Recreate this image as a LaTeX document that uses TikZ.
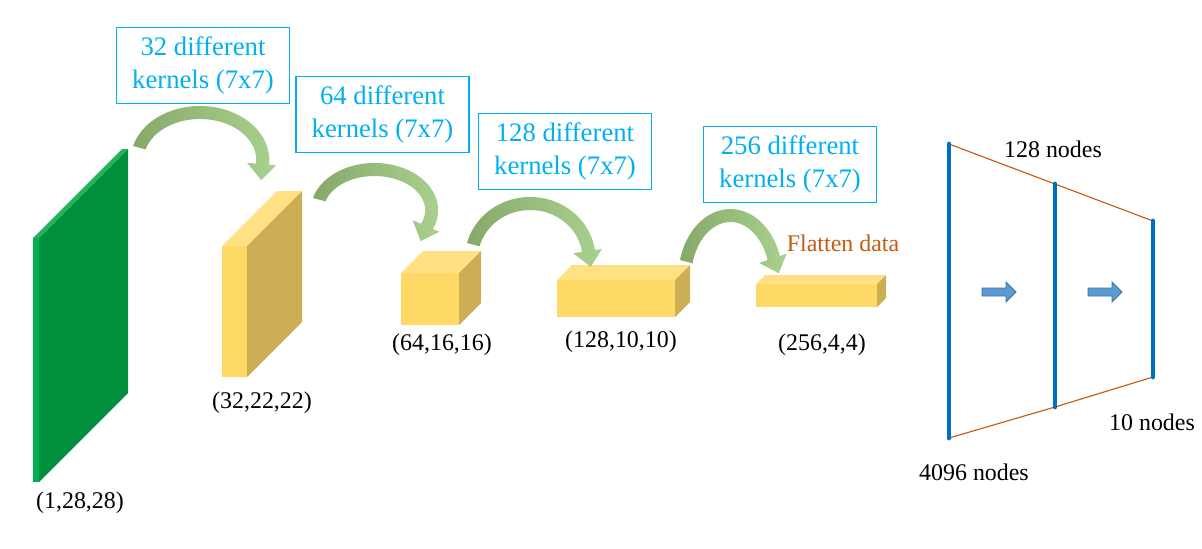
\documentclass[tikz,border=0pt]{standalone}
\usepackage{fontspec}
\setmainfont{Liberation Serif}
\usetikzlibrary{calc}

\definecolor{greenfront}{HTML}{00B050}
\definecolor{greentop}{HTML}{22B45C}
\definecolor{greenside}{HTML}{008F3D}
\definecolor{boxfront}{HTML}{FFD966}
\definecolor{boxtop}{HTML}{FFE083}
\definecolor{boxside}{HTML}{CCAF55}
\definecolor{arcdark}{HTML}{86A96A}
\definecolor{arclight}{HTML}{A9D18E}
\definecolor{kerncyan}{HTML}{00B0F0}
\definecolor{layerblue}{HTML}{0070C0}
\definecolor{linkorange}{HTML}{C55A11}
\definecolor{arrowblue}{HTML}{5B9BD5}
\definecolor{arrowedge}{HTML}{41719C}

\begin{document}
\begin{tikzpicture}[x=0.025cm, y=0.025cm,
    kernbox/.style={draw=kerncyan, line width=1pt, text=kerncyan, align=center,
      minimum width=4.33cm, minimum height=1.9cm, inner sep=0pt,
      font=\fontsize{19}{24}\selectfont},
    dimlabel/.style={inner sep=0pt, font=\fontsize{17}{20}\selectfont},
    layer/.style={draw=layerblue, line width=3.5pt, line cap=round},
    link/.style={draw=linkorange, line width=0.8pt},
    blockarrow/.style={fill=arrowblue, draw=arrowedge, line width=0.6pt}]
    
    \useasboundingbox (0,0) rectangle (1202,548);
    
    % feature maps (front x, front y, width, height, depth)
    \foreach \x/\y/\w/\h/\d/\cf/\ct/\cs in {33/66/6/244/89/greenfront/greentop/greenside,
      222/171/25/131/55/boxfront/boxtop/boxside, 401/223/58/52/22/boxfront/boxtop/boxside,
      557/231/118/37/15/boxfront/boxtop/boxside, 756/241/121/23/9/boxfront/boxtop/boxside}
    {
    \fill[fill=\cf] (\x,\y) rectangle ++(\w,\h);
    \fill[fill=\ct] (\x,\y+\h) -- ++(\d,\d) -- ++(\w,0) -- ++(-\d,-\d) -- cycle;
    \fill[fill=\cs] (\x+\w,\y) -- ++(\d,\d) -- ++(0,\h) -- ++(-\d,-\d) -- cycle;
    }
    
    % curved kernel arrows (centre, radii, end angle)
    \foreach \cx/\cy/\rx/\ry/\e in {200/388/69.3/54/-5, 374.5/337.8/63.7/47.2/-23.5,
      530.2/289/65.4/62/8.3, 730.4/270.2/52.2/68.8/18.5}
    {
    \pgfmathsetmacro\irx{\rx-13}
    \pgfmathsetmacro\iry{\ry-13}
    \pgfmathsetmacro\sx{\cx+\rx*cos(165)}
    \pgfmathsetmacro\sy{\cy+\ry*sin(165)}
    \pgfmathsetmacro\ox{\cx+\rx*cos(\e)}
    \pgfmathsetmacro\oy{\cy+\ry*sin(\e)}
    \pgfmathsetmacro\ix{\cx+\irx*cos(\e)}
    \pgfmathsetmacro\iy{\cy+\iry*sin(\e)}
    \pgfmathsetmacro\ta{\e-90}
    \pgfmathsetmacro\eb{\e+180}
    \coordinate (oe) at (\ox,\oy);
    \coordinate (ie) at (\ix,\iy);
    \coordinate (tip) at ($(oe)!0.5!(ie)+(\ta:16)$);
    \shade[left color=arcdark, right color=arclight]
      (\sx,\sy) arc[start angle=165, end angle=\e, x radius=\rx, y radius=\ry]
      -- ($(oe)+(\e:7)$) -- (tip) -- ($(ie)+(\eb:9)$) -- (ie)
      arc[start angle=\e, end angle=165, x radius=\irx, y radius=\iry] -- cycle;
    }
    
    \node[kernbox] (k1) at (203,482.5) {32 different\\kernels (7x7)};
    \node[kernbox] (k2) at (382.5,433.5) {64 different\\kernels (7x7)};
    \node[kernbox] (k3) at (565,396.5) {128 different\\kernels (7x7)};
    \node[kernbox] (k4) at (790,383.5) {256 different\\kernels (7x7)};
    
    \node[dimlabel] (d1) at (80,45) {(1,28,28)};
    \node[dimlabel] (d2) at (262,145) {(32,22,22)};
    \node[dimlabel] (d3) at (442,203) {(64,16,16)};
    \node[dimlabel] (d4) at (621,206) {(128,10,10)};
    \node[dimlabel] (d5) at (822,203) {(256,4,4)};
    \node[dimlabel, text=linkorange] (flat) at (843,305) {Flatten data};
    
    % fully connected part
    \coordinate (l1t) at (949,404);
    \coordinate (l1b) at (949,110);
    \coordinate (l2t) at (1055,364);
    \coordinate (l2b) at (1055,141);
    \coordinate (l3t) at (1153,327);
    \coordinate (l3b) at (1153,171);
    \draw[link] (l1t) -- (l2t) -- (l3t);
    \draw[link] (l1b) -- (l2b) -- (l3b);
    \draw[layer] (l1t) -- (l1b);
    \draw[layer] (l2t) -- (l2b);
    \draw[layer] (l3t) -- (l3b);
    
    \foreach \ax in {982,1088}
    \draw[blockarrow] (\ax,252) -- (\ax+24,252) -- (\ax+24,246) -- (\ax+34,256)
      -- (\ax+24,266) -- (\ax+24,260) -- (\ax,260) -- cycle;
    
    \node[dimlabel] (n1) at (974,76) {4096 nodes};
    \node[dimlabel] (n2) at (1053,399) {128 nodes};
    \node[dimlabel] (n3) at (1152,126) {10 nodes};
    
\end{tikzpicture}
\end{document}
